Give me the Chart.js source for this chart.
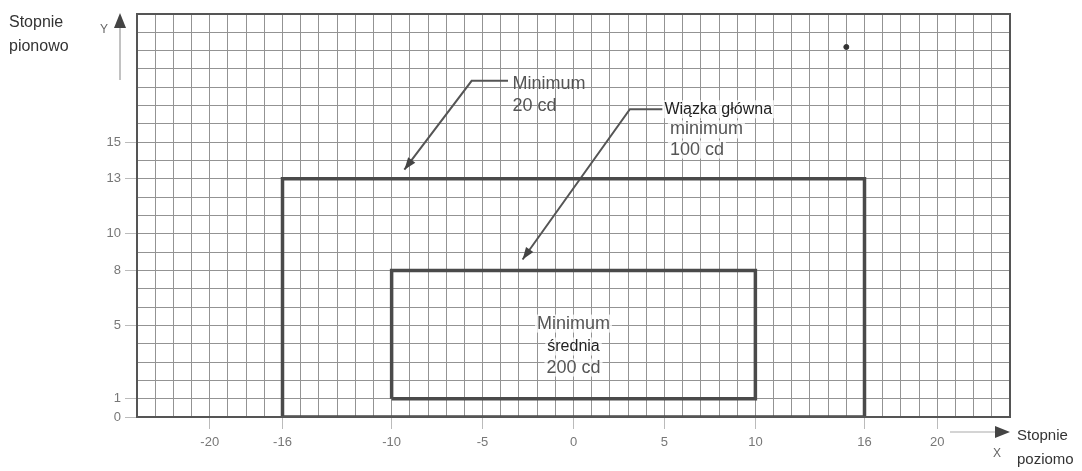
<!DOCTYPE html>
<html>
<head>
<meta charset="utf-8">
<script src="https://cdn.jsdelivr.net/npm/chart.js@4/dist/chart.umd.min.js"></script>
<style>
  html, body { margin: 0; padding: 0; background: #fff; }
  #wrap { width: 1082px; height: 471px; position: relative; }
</style>
</head>
<body>
<div id="wrap"><canvas id="chart"></canvas></div>
<script>
// axis ranges and labelled ticks
const xRange = [-24, 24];
const yRange = [0, 22];
const xTickLabels = [-20, -16, -10, -5, 0, 5, 10, 16, 20];
const yTickLabels = [0, 1, 5, 8, 10, 13, 15];

// the two zones
const outerX = [-16, -16, 16, 16, -16];
const outerY = [0, 13, 13, 0, 0];
const innerX = [-10, -10, 10, 10, -10];
const innerY = [1, 8, 8, 1, 1];

// leader arrows (last point = arrow tip)
const arrow1X = [-3.6, -5.6, -9.3];
const arrow1Y = [18.35, 18.35, 13.5];
const arrow2X = [4.9, 3.1, -2.8];
const arrow2Y = [16.8, 16.8, 8.6];

// stray dot on the sheet
const dotX = [15];
const dotY = [20.2];

// text notes inside the plot
const notes = [
    { x: -3.35, y: 18.2, text: 'Minimum', color: '#555', align: 'left' },
    { x: -3.35, y: 16.95, text: '20 cd', color: '#555', align: 'left' },
    { x: 5.0, y: 16.8, text: 'Wiązka główna', color: '#1e1e1e', align: 'left', bg: true, size: 16 },
    { x: 5.3, y: 15.7, text: 'minimum', color: '#555', align: 'left', bg: true },
    { x: 5.3, y: 14.6, text: '100 cd', color: '#555', align: 'left', bg: true },
    { x: 0, y: 5.1, text: 'Minimum', color: '#555', align: 'center', bg: true },
    { x: 0, y: 3.85, text: 'średnia', color: '#222', align: 'center', bg: true, size: 16 },
    { x: 0, y: 2.7, text: '200 cd', color: '#555', align: 'center', bg: true }
];

function pts(xs, ys) {
    return xs.map((x, i) => ({ x: x, y: ys[i] }));
}

const frameAndNotes = {
    id: 'frameAndNotes',
    afterDatasetsDraw(chart) {
        const ctx = chart.ctx;
        const a = chart.chartArea;
        const sx = chart.scales.x, sy = chart.scales.y;
        ctx.save();
        // frame
        ctx.strokeStyle = '#555';
        ctx.lineWidth = 2;
        ctx.strokeRect(a.left, a.top, a.right - a.left, a.bottom - a.top);

        // arrowheads on the leader lines
        [[arrow1X, arrow1Y], [arrow2X, arrow2Y]].forEach(([xs, ys]) => {
            const n = xs.length;
            const x1 = sx.getPixelForValue(xs[n - 2]), y1 = sy.getPixelForValue(ys[n - 2]);
            const x2 = sx.getPixelForValue(xs[n - 1]), y2 = sy.getPixelForValue(ys[n - 1]);
            const ang = Math.atan2(y2 - y1, x2 - x1);
            ctx.fillStyle = '#444';
            ctx.beginPath();
            ctx.moveTo(x2, y2);
            ctx.lineTo(x2 - 13 * Math.cos(ang - 0.35), y2 - 13 * Math.sin(ang - 0.35));
            ctx.lineTo(x2 - 13 * Math.cos(ang + 0.35), y2 - 13 * Math.sin(ang + 0.35));
            ctx.closePath();
            ctx.fill();
        });

        // notes
        ctx.textBaseline = 'middle';
        notes.forEach(n => {
            ctx.font = (n.size || 18) + 'px "Liberation Sans", Arial, sans-serif';
            const px = sx.getPixelForValue(n.x), py = sy.getPixelForValue(n.y);
            const w = ctx.measureText(n.text).width;
            const left = n.align === 'center' ? px - w / 2 : px;
            if (n.bg) {
                ctx.fillStyle = 'rgba(255,255,255,0.75)';
                ctx.fillRect(left - 2, py - 9, w + 4, 18);
            }
            ctx.fillStyle = n.color;
            ctx.textAlign = 'left';
            ctx.fillText(n.text, left, py);
        });

        // outside axis captions
        ctx.fillStyle = '#333';
        ctx.font = '16px "Liberation Sans", Arial, sans-serif';
        ctx.fillText('Stopnie', 9, 23);
        ctx.fillText('pionowo', 9, 47);
        ctx.font = '15px "Liberation Sans", Arial, sans-serif';
        ctx.fillText('Stopnie', 1017, 436);
        ctx.fillText('poziomo', 1017, 460);
        ctx.fillStyle = '#666';
        ctx.font = '12px "Liberation Sans", Arial, sans-serif';
        ctx.fillText('Y', 100, 30);
        ctx.fillText('X', 993, 454);

        // Y arrow
        ctx.strokeStyle = '#999';
        ctx.lineWidth = 1.2;
        ctx.beginPath();
        ctx.moveTo(120, 80);
        ctx.lineTo(120, 24);
        ctx.stroke();
        ctx.fillStyle = '#444';
        ctx.beginPath();
        ctx.moveTo(120, 13);
        ctx.lineTo(114, 28);
        ctx.lineTo(126, 28);
        ctx.closePath();
        ctx.fill();

        // X arrow
        ctx.strokeStyle = '#aaa';
        ctx.beginPath();
        ctx.moveTo(950, 432);
        ctx.lineTo(996, 432);
        ctx.stroke();
        ctx.beginPath();
        ctx.moveTo(1010, 432);
        ctx.lineTo(995, 426);
        ctx.lineTo(995, 438);
        ctx.closePath();
        ctx.fill();
        ctx.restore();
    }
};

const lineStyle = { showLine: true, pointRadius: 0, borderColor: '#4a4a4a', fill: false, tension: 0 };

new Chart(document.getElementById('chart'), {
    type: 'scatter',
    data: {
        datasets: [
            Object.assign({ data: pts(outerX, outerY), borderWidth: 3.5 }, lineStyle),
            Object.assign({ data: pts(innerX, innerY), borderWidth: 3.5 }, lineStyle),
            Object.assign({ data: pts(arrow1X, arrow1Y), borderWidth: 2 }, lineStyle, { borderColor: '#555' }),
            Object.assign({ data: pts(arrow2X, arrow2Y), borderWidth: 2 }, lineStyle, { borderColor: '#555' }),
            { data: pts(dotX, dotY), pointRadius: 2.5, backgroundColor: '#333', borderColor: '#333' }
        ]
    },
    options: {
        responsive: true,
        maintainAspectRatio: false,
        animation: false,
        layout: { padding: { top: 14, right: 72, left: 0, bottom: 0 } },
        plugins: { legend: { display: false }, tooltip: { enabled: false } },
        scales: {
            x: {
                type: 'linear',
                min: xRange[0],
                max: xRange[1],
                border: { display: false },
                afterFit: s => { s.height = 54; },
                ticks: {
                    stepSize: 1,
                    autoSkip: false,
                    maxRotation: 0,
                    padding: 6,
                    color: '#777',
                    font: { family: '"Liberation Sans", Arial, sans-serif', size: 13 },
                    callback: v => xTickLabels.includes(v) ? String(v) : ''
                },
                grid: {
                    color: '#939393',
                    lineWidth: 1,
                    tickLength: 12,
                    tickColor: c => xTickLabels.includes(c.tick && c.tick.value) ? '#bbb' : 'rgba(0,0,0,0)'
                }
            },
            y: {
                type: 'linear',
                min: yRange[0],
                max: yRange[1],
                border: { display: false },
                afterFit: s => { s.width = 137; },
                ticks: {
                    stepSize: 1,
                    autoSkip: false,
                    padding: 4,
                    color: '#777',
                    font: { family: '"Liberation Sans", Arial, sans-serif', size: 13 },
                    callback: v => yTickLabels.includes(v) ? String(v) : ''
                },
                grid: {
                    color: '#939393',
                    lineWidth: 1,
                    tickLength: 12,
                    tickColor: c => yTickLabels.includes(c.tick && c.tick.value) ? '#bbb' : 'rgba(0,0,0,0)'
                }
            }
        }
    },
    plugins: [frameAndNotes]
});
</script>
</body>
</html>
